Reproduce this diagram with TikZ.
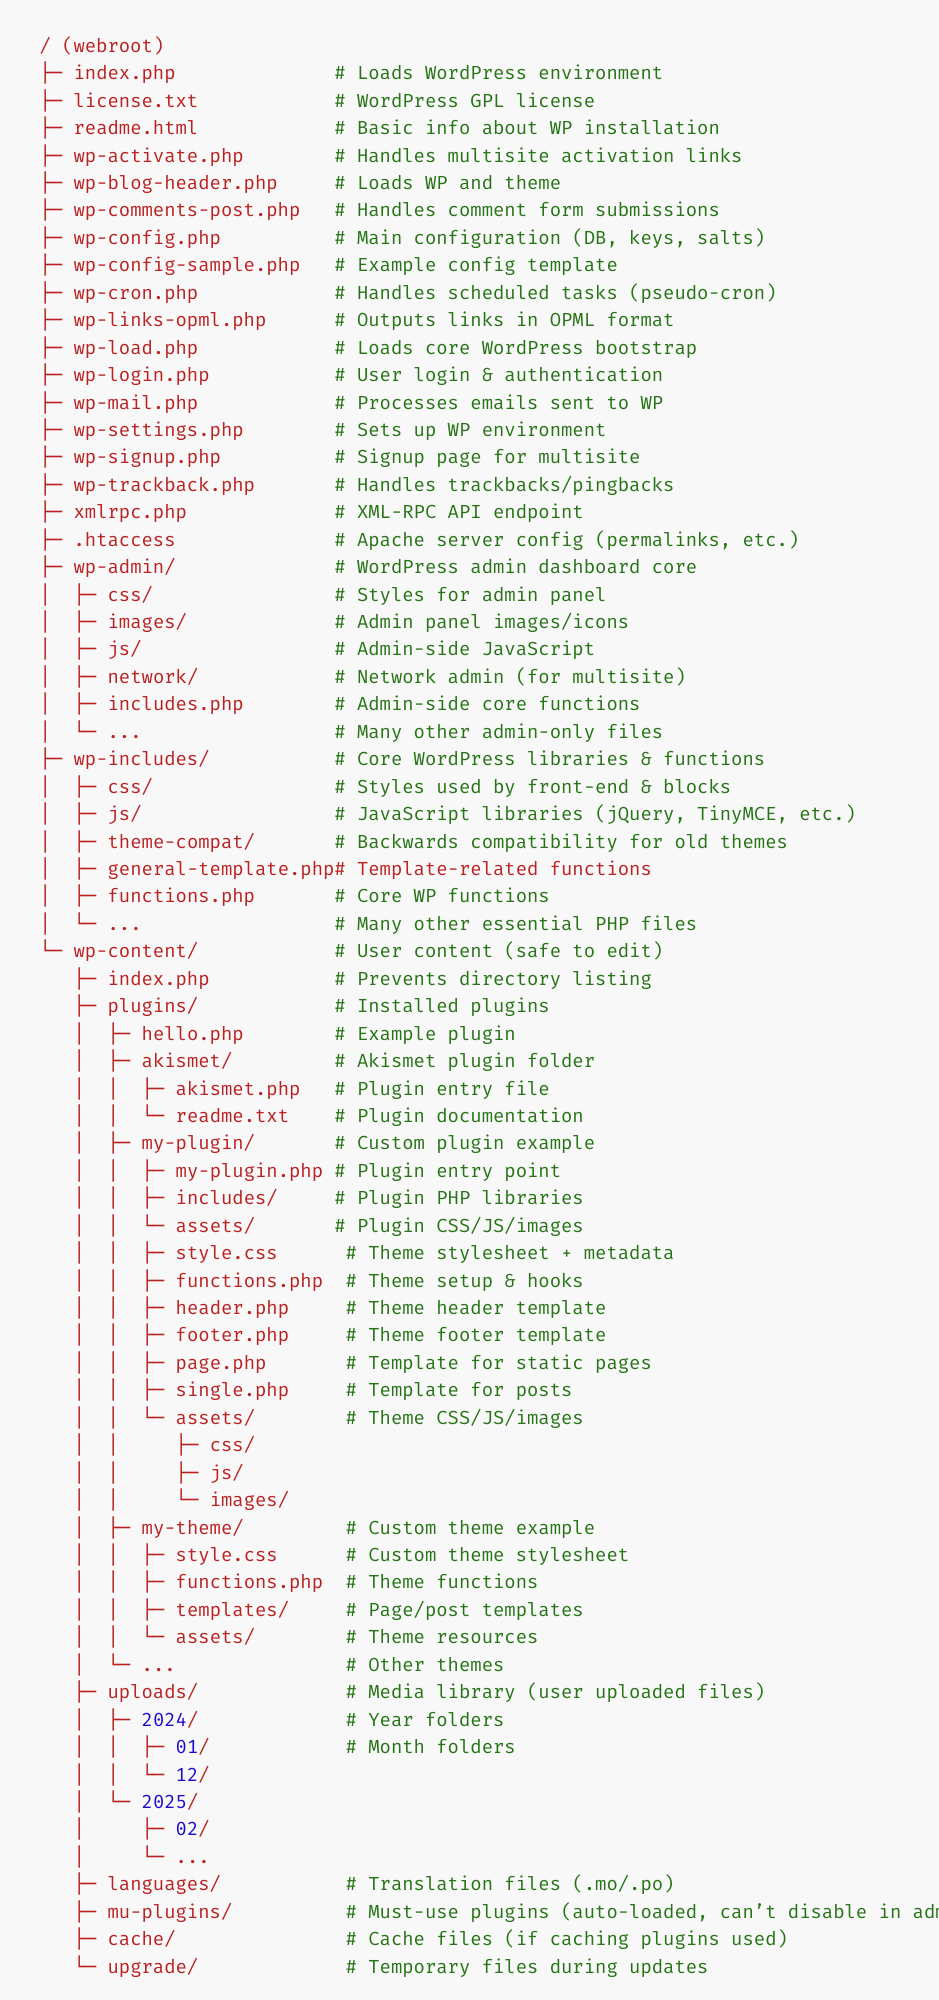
\documentclass[tikz,border=0pt]{standalone}
\usepackage{fontspec}
\newfontfamily\monof{Fira Mono}
\newfontfamily\boxf{DejaVu Sans Mono}
\newcommand\trV{{\boxf │}}
\newcommand\trT{{\boxf ├─}}
\newcommand\trL{{\boxf └─}}
\definecolor{bgc}{RGB}{248,248,248}
\definecolor{nred}{RGB}{186,33,33}
\definecolor{cgreen}{RGB}{38,116,22}
\definecolor{nblue}{RGB}{28,10,205}
\begin{document}
\begin{tikzpicture}[
  fname/.style={anchor=base west, inner sep=0pt, outer sep=0pt, text=nred, font=\monof\fontsize{18.9pt}{27.44pt}\selectfont},
  cmnt/.style={fname, text=cgreen}]
\fill[bgc] (0,0) rectangle (939pt,-2000pt);
\useasboundingbox (0,0) rectangle (939pt,-2000pt);
\clip (0,0) rectangle (939pt,-2000pt);
\begin{scope}[x=11.34pt,y=-27.44pt,shift={(39.5pt,-52.3pt)}]
\node[fname] (n0) at (0,0) {/ (webroot)};
\node[fname] (n1) at (0,1) {\trT~index.php};
\node[cmnt] (c1) at (26,1) {\# Loads WordPress environment};
\node[fname] (n2) at (0,2) {\trT~license.txt};
\node[cmnt] (c2) at (26,2) {\# WordPress GPL license};
\node[fname] (n3) at (0,3) {\trT~readme.html};
\node[cmnt] (c3) at (26,3) {\# Basic info about WP installation};
\node[fname] (n4) at (0,4) {\trT~wp-activate.php};
\node[cmnt] (c4) at (26,4) {\# Handles multisite activation links};
\node[fname] (n5) at (0,5) {\trT~wp-blog-header.php};
\node[cmnt] (c5) at (26,5) {\# Loads WP and theme};
\node[fname] (n6) at (0,6) {\trT~wp-comments-post.php};
\node[cmnt] (c6) at (26,6) {\# Handles comment form submissions};
\node[fname] (n7) at (0,7) {\trT~wp-config.php};
\node[cmnt] (c7) at (26,7) {\# Main configuration (DB, keys, salts)};
\node[fname] (n8) at (0,8) {\trT~wp-config-sample.php};
\node[cmnt] (c8) at (26,8) {\# Example config template};
\node[fname] (n9) at (0,9) {\trT~wp-cron.php};
\node[cmnt] (c9) at (26,9) {\# Handles scheduled tasks (pseudo-cron)};
\node[fname] (n10) at (0,10) {\trT~wp-links-opml.php};
\node[cmnt] (c10) at (26,10) {\# Outputs links in OPML format};
\node[fname] (n11) at (0,11) {\trT~wp-load.php};
\node[cmnt] (c11) at (26,11) {\# Loads core WordPress bootstrap};
\node[fname] (n12) at (0,12) {\trT~wp-login.php};
\node[cmnt] (c12) at (26,12) {\# User login \& authentication};
\node[fname] (n13) at (0,13) {\trT~wp-mail.php};
\node[cmnt] (c13) at (26,13) {\# Processes emails sent to WP};
\node[fname] (n14) at (0,14) {\trT~wp-settings.php};
\node[cmnt] (c14) at (26,14) {\# Sets up WP environment};
\node[fname] (n15) at (0,15) {\trT~wp-signup.php};
\node[cmnt] (c15) at (26,15) {\# Signup page for multisite};
\node[fname] (n16) at (0,16) {\trT~wp-trackback.php};
\node[cmnt] (c16) at (26,16) {\# Handles trackbacks/pingbacks};
\node[fname] (n17) at (0,17) {\trT~xmlrpc.php};
\node[cmnt] (c17) at (26,17) {\# XML-RPC API endpoint};
\node[fname] (n18) at (0,18) {\trT~.htaccess};
\node[cmnt] (c18) at (26,18) {\# Apache server config (permalinks, etc.)};
\node[fname] (n19) at (0,19) {\trT~wp-admin/};
\node[cmnt] (c19) at (26,19) {\# WordPress admin dashboard core};
\node[fname] (n20) at (0,20) {\trV~~\trT~css/};
\node[cmnt] (c20) at (26,20) {\# Styles for admin panel};
\node[fname] (n21) at (0,21) {\trV~~\trT~images/};
\node[cmnt] (c21) at (26,21) {\# Admin panel images/icons};
\node[fname] (n22) at (0,22) {\trV~~\trT~js/};
\node[cmnt] (c22) at (26,22) {\# Admin-side JavaScript};
\node[fname] (n23) at (0,23) {\trV~~\trT~network/};
\node[cmnt] (c23) at (26,23) {\# Network admin (for multisite)};
\node[fname] (n24) at (0,24) {\trV~~\trT~includes.php};
\node[cmnt] (c24) at (26,24) {\# Admin-side core functions};
\node[fname] (n25) at (0,25) {\trV~~\trL~...};
\node[cmnt] (c25) at (26,25) {\# Many other admin-only files};
\node[fname] (n26) at (0,26) {\trT~wp-includes/};
\node[cmnt] (c26) at (26,26) {\# Core WordPress libraries \& functions};
\node[fname] (n27) at (0,27) {\trV~~\trT~css/};
\node[cmnt] (c27) at (26,27) {\# Styles used by front-end \& blocks};
\node[fname] (n28) at (0,28) {\trV~~\trT~js/};
\node[cmnt] (c28) at (26,28) {\# JavaScript libraries (jQuery, TinyMCE, etc.)};
\node[fname] (n29) at (0,29) {\trV~~\trT~theme-compat/};
\node[cmnt] (c29) at (26,29) {\# Backwards compatibility for old themes};
\node[fname] (n30) at (0,30) {\trV~~\trT~general-template.php};
\node[fname] (c30) at (26,30) {\# Template-related functions};
\node[fname] (n31) at (0,31) {\trV~~\trT~functions.php};
\node[cmnt] (c31) at (26,31) {\# Core WP functions};
\node[fname] (n32) at (0,32) {\trV~~\trL~...};
\node[cmnt] (c32) at (26,32) {\# Many other essential PHP files};
\node[fname] (n33) at (0,33) {\trL~wp-content/};
\node[cmnt] (c33) at (26,33) {\# User content (safe to edit)};
\node[fname] (n34) at (0,34) {~~~\trT~index.php};
\node[cmnt] (c34) at (26,34) {\# Prevents directory listing};
\node[fname] (n35) at (0,35) {~~~\trT~plugins/};
\node[cmnt] (c35) at (26,35) {\# Installed plugins};
\node[fname] (n36) at (0,36) {~~~\trV~~\trT~hello.php};
\node[cmnt] (c36) at (26,36) {\# Example plugin};
\node[fname] (n37) at (0,37) {~~~\trV~~\trT~akismet/};
\node[cmnt] (c37) at (26,37) {\# Akismet plugin folder};
\node[fname] (n38) at (0,38) {~~~\trV~~\trV~~\trT~akismet.php};
\node[cmnt] (c38) at (26,38) {\# Plugin entry file};
\node[fname] (n39) at (0,39) {~~~\trV~~\trV~~\trL~readme.txt};
\node[cmnt] (c39) at (26,39) {\# Plugin documentation};
\node[fname] (n40) at (0,40) {~~~\trV~~\trT~my-plugin/};
\node[cmnt] (c40) at (26,40) {\# Custom plugin example};
\node[fname] (n41) at (0,41) {~~~\trV~~\trV~~\trT~my-plugin.php};
\node[cmnt] (c41) at (26,41) {\# Plugin entry point};
\node[fname] (n42) at (0,42) {~~~\trV~~\trV~~\trT~includes/};
\node[cmnt] (c42) at (26,42) {\# Plugin PHP libraries};
\node[fname] (n43) at (0,43) {~~~\trV~~\trV~~\trL~assets/};
\node[cmnt] (c43) at (26,43) {\# Plugin CSS/JS/images};
\node[fname] (n44) at (0,44) {~~~\trV~~\trV~~\trT~style.css};
\node[cmnt] (c44) at (27,44) {\# Theme stylesheet + metadata};
\node[fname] (n45) at (0,45) {~~~\trV~~\trV~~\trT~functions.php};
\node[cmnt] (c45) at (27,45) {\# Theme setup \& hooks};
\node[fname] (n46) at (0,46) {~~~\trV~~\trV~~\trT~header.php};
\node[cmnt] (c46) at (27,46) {\# Theme header template};
\node[fname] (n47) at (0,47) {~~~\trV~~\trV~~\trT~footer.php};
\node[cmnt] (c47) at (27,47) {\# Theme footer template};
\node[fname] (n48) at (0,48) {~~~\trV~~\trV~~\trT~page.php};
\node[cmnt] (c48) at (27,48) {\# Template for static pages};
\node[fname] (n49) at (0,49) {~~~\trV~~\trV~~\trT~single.php};
\node[cmnt] (c49) at (27,49) {\# Template for posts};
\node[fname] (n50) at (0,50) {~~~\trV~~\trV~~\trL~assets/};
\node[cmnt] (c50) at (27,50) {\# Theme CSS/JS/images};
\node[fname] (n51) at (0,51) {~~~\trV~~\trV~~~~~\trT~css/};
\node[fname] (n52) at (0,52) {~~~\trV~~\trV~~~~~\trT~js/};
\node[fname] (n53) at (0,53) {~~~\trV~~\trV~~~~~\trL~images/};
\node[fname] (n54) at (0,54) {~~~\trV~~\trT~my-theme/};
\node[cmnt] (c54) at (27,54) {\# Custom theme example};
\node[fname] (n55) at (0,55) {~~~\trV~~\trV~~\trT~style.css};
\node[cmnt] (c55) at (27,55) {\# Custom theme stylesheet};
\node[fname] (n56) at (0,56) {~~~\trV~~\trV~~\trT~functions.php};
\node[cmnt] (c56) at (27,56) {\# Theme functions};
\node[fname] (n57) at (0,57) {~~~\trV~~\trV~~\trT~templates/};
\node[cmnt] (c57) at (27,57) {\# Page/post templates};
\node[fname] (n58) at (0,58) {~~~\trV~~\trV~~\trL~assets/};
\node[cmnt] (c58) at (27,58) {\# Theme resources};
\node[fname] (n59) at (0,59) {~~~\trV~~\trL~...};
\node[cmnt] (c59) at (27,59) {\# Other themes};
\node[fname] (n60) at (0,60) {~~~\trT~uploads/};
\node[cmnt] (c60) at (27,60) {\# Media library (user uploaded files)};
\node[fname] (n61) at (0,61) {~~~\trV~~\trT~\textcolor{nblue}{2024}/};
\node[cmnt] (c61) at (27,61) {\# Year folders};
\node[fname] (n62) at (0,62) {~~~\trV~~\trV~~\trT~\textcolor{nblue}{01}/};
\node[cmnt] (c62) at (27,62) {\# Month folders};
\node[fname] (n63) at (0,63) {~~~\trV~~\trV~~\trL~\textcolor{nblue}{12}/};
\node[fname] (n64) at (0,64) {~~~\trV~~\trL~\textcolor{nblue}{2025}/};
\node[fname] (n65) at (0,65) {~~~\trV~~~~~\trT~\textcolor{nblue}{02}/};
\node[fname] (n66) at (0,66) {~~~\trV~~~~~\trL~...};
\node[fname] (n67) at (0,67) {~~~\trT~languages/};
\node[cmnt] (c67) at (27,67) {\# Translation files (.mo/.po)};
\node[fname] (n68) at (0,68) {~~~\trT~mu-plugins/};
\node[cmnt] (c68) at (27,68) {\# Must-use plugins (auto-loaded, can’t disable in admin)};
\node[fname] (n69) at (0,69) {~~~\trT~cache/};
\node[cmnt] (c69) at (27,69) {\# Cache files (if caching plugins used)};
\node[fname] (n70) at (0,70) {~~~\trL~upgrade/};
\node[cmnt] (c70) at (27,70) {\# Temporary files during updates};
\end{scope}
\end{tikzpicture}
\end{document}
